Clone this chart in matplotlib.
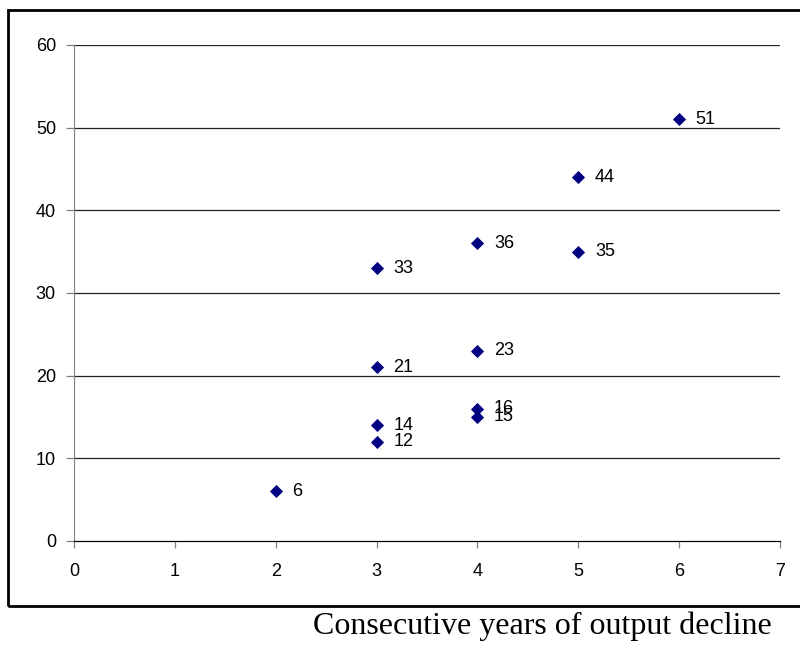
import matplotlib
matplotlib.use("Agg")
import matplotlib.pyplot as plt
from matplotlib.patches import Rectangle

years = [2, 3, 3, 3, 3, 4, 4, 4, 4, 5, 5, 6]
decline = [6, 33, 21, 14, 12, 36, 23, 16, 15, 44, 35, 51]
labels = [str(v) for v in decline]
x_ticks = [0, 1, 2, 3, 4, 5, 6, 7]
y_ticks = [0, 10, 20, 30, 40, 50, 60]
x_title = "Consecutive years of output decline"

fig = plt.figure(figsize=(8, 6.5), dpi=100)
ax = fig.add_axes([0.0925, 0.1677, 0.8825, 0.7631])

for y in y_ticks[1:]:
    ax.axhline(y, color="#222222", lw=0.9, zorder=1)

ax.scatter(years, decline, marker="D", s=45, color="#000080", zorder=3, linewidths=0)
for xv, yv, lab in zip(years, decline, labels):
    ax.annotate(lab, (xv, yv), xytext=(12, 0), textcoords="offset points",
                va="center", ha="left", fontsize=13, family="Liberation Sans")

ax.set_xlim(0, 7)
ax.set_ylim(0, 60)
ax.set_xticks(x_ticks)
ax.set_yticks(y_ticks)
for lab in ax.get_xticklabels() + ax.get_yticklabels():
    lab.set_family("Liberation Sans")
    lab.set_fontsize(13)
ax.tick_params(axis="x", direction="out", length=5, width=0.9, color="#808080", pad=11)
ax.tick_params(axis="y", direction="out", length=6, width=0.9, color="#808080", pad=7)
ax.spines["top"].set_visible(False)
ax.spines["right"].set_visible(False)
ax.spines["left"].set_color("#808080")
ax.spines["bottom"].set_color("black")
ax.spines["bottom"].set_linewidth(0.9)

frame = Rectangle((0.01, 0.068), 1.05, 0.917, transform=fig.transFigure,
                  fill=False, lw=2, edgecolor="black", clip_on=False)
fig.patches.append(frame)

fig.text(0.678, 0.037, x_title, ha="center", va="center", fontsize=23,
         family="Liberation Serif")

fig.savefig("out.png", dpi=100)
